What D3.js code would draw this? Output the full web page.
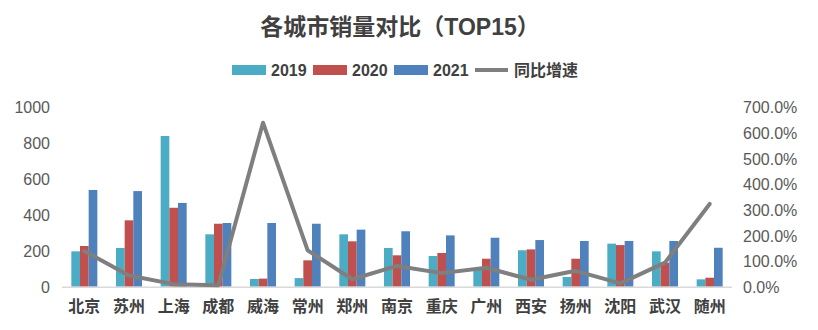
<!DOCTYPE html>
<html>
<head>
<meta charset="utf-8">
<script src="https://cdn.jsdelivr.net/npm/d3@7/dist/d3.min.js"></script>
<style>
  html, body { margin: 0; padding: 0; background: #fff; }
  svg { display: block; }
</style>
</head>
<body>
<svg id="chart" width="818" height="330"></svg>
<script>
// Sales by city, top 15
const cities = ["北京", "苏州", "上海", "成都", "威海", "常州", "郑州", "南京", "重庆", "广州", "西安", "扬州", "沈阳", "武汉", "随州"];
const sales2019 = [197, 216, 840, 292, 43, 48, 292, 216, 171, 105, 203, 54, 240, 197, 41];
const sales2020 = [227, 370, 440, 351, 45, 147, 253, 175, 188, 156, 208, 156, 232, 134, 50];
const sales2021 = [539, 533, 467, 355, 355, 351, 318, 309, 286, 273, 260, 255, 255, 255, 217];
// Year-over-year growth, percent
const growth = [139, 44, 10, 6, 640, 142, 29, 81, 53, 74, 27, 62, 13, 94, 323];
const leftTicks = [0, 200, 400, 600, 800, 1000];
const rightTicks = [0, 100, 200, 300, 400, 500, 600, 700];

const seriesNames = ["2019", "2020", "2021"];
const seriesValues = [sales2019, sales2020, sales2021];
const seriesColors = ["#4bacc6", "#c0504d", "#4f81bd"];
const lineName = "同比增速";
const lineColor = "#7f7f7f";

const latin = "'Liberation Sans', Arial, 'Noto Sans CJK SC', sans-serif";
const svg = d3.select("#chart");

const plot = { left: 62, right: 732, top: 107.3, bottom: 286.7 };

const x = d3.scaleBand()
  .domain(cities)
  .range([plot.left, plot.right])
  .paddingInner(0.418)
  .paddingOuter(0.209);
const xs = d3.scaleBand().domain(seriesNames).range([0, x.bandwidth()]);
const yL = d3.scaleLinear().domain([0, 1000]).range([plot.bottom, plot.top]);
const yR = d3.scaleLinear().domain([0, 700]).range([plot.bottom, plot.top]);

// Title
svg.append("text")
  .attr("x", 400).attr("y", 27)
  .attr("text-anchor", "middle").attr("dominant-baseline", "central")
  .attr("font-family", latin).attr("font-weight", "bold")
  .attr("font-size", 23).attr("fill", "#404040")
  .text("各城市销量对比（TOP15）");

// Legend
const legend = svg.append("g").attr("font-family", latin).attr("font-weight", "bold")
  .attr("font-size", 16).attr("fill", "#404040");
const legendY = 70;
const legendX = [232, 313, 394];
seriesNames.forEach((name, i) => {
  legend.append("rect").attr("x", legendX[i]).attr("y", legendY - 5)
    .attr("width", 34).attr("height", 10).attr("fill", seriesColors[i]);
  legend.append("text").attr("x", legendX[i] + 39).attr("y", legendY)
    .attr("dominant-baseline", "central").text(name);
});
legend.append("line").attr("x1", 475).attr("x2", 508)
  .attr("y1", legendY).attr("y2", legendY)
  .attr("stroke", lineColor).attr("stroke-width", 4);
legend.append("text").attr("x", 514).attr("y", legendY)
  .attr("dominant-baseline", "central").text(lineName);

// Left axis
const leftAxis = svg.append("g")
  .attr("transform", `translate(${plot.left - 12},0)`)
  .call(d3.axisLeft(yL).tickValues(leftTicks).tickSize(0).tickPadding(0).tickFormat(d3.format("d")));
leftAxis.select(".domain").remove();
leftAxis.selectAll("text").attr("font-family", latin).attr("font-size", 16)
  .attr("fill", "#595959").attr("dy", "0.35em");

// Right axis
const rightAxis = svg.append("g")
  .attr("transform", `translate(743,0)`)
  .call(d3.axisRight(yR).tickValues(rightTicks).tickSize(0).tickPadding(0)
    .tickFormat(d => d3.format(".1f")(d) + "%"));
rightAxis.select(".domain").remove();
rightAxis.selectAll("text").attr("font-family", latin).attr("font-size", 16)
  .attr("fill", "#595959").attr("dy", "0.35em");

// Bars
const groups = svg.append("g").selectAll("g")
  .data(cities).join("g")
  .attr("transform", d => `translate(${x(d)},0)`);
groups.selectAll("rect")
  .data((c, ci) => seriesNames.map((s, si) => ({ s, si, v: seriesValues[si][ci] })))
  .join("rect")
  .attr("x", d => xs(d.s))
  .attr("width", xs.bandwidth())
  .attr("y", d => yL(d.v))
  .attr("height", d => yL(0) - yL(d.v))
  .attr("fill", d => seriesColors[d.si]);

// Category axis
svg.append("line")
  .attr("x1", plot.left).attr("x2", plot.right)
  .attr("y1", plot.bottom + 0.5).attr("y2", plot.bottom + 0.5)
  .attr("stroke", "#d9d9d9").attr("stroke-width", 1.5);
const bottomAxis = svg.append("g")
  .attr("transform", `translate(0,${plot.bottom})`)
  .call(d3.axisBottom(x).tickSize(0).tickPadding(0));
bottomAxis.select(".domain").remove();
bottomAxis.selectAll("text")
  .attr("font-family", "'Noto Sans CJK SC', sans-serif").attr("font-weight", "bold")
  .attr("font-size", 16).attr("fill", "#404040")
  .attr("y", 20).attr("dy", "0.35em");

// Growth line
const line = d3.line()
  .x((d, i) => x(cities[i]) + x.bandwidth() / 2)
  .y(d => yR(d));
svg.append("path")
  .datum(growth)
  .attr("d", line)
  .attr("fill", "none")
  .attr("stroke", lineColor)
  .attr("stroke-width", 4)
  .attr("stroke-linejoin", "round")
  .attr("stroke-linecap", "round");
</script>
</body>
</html>
